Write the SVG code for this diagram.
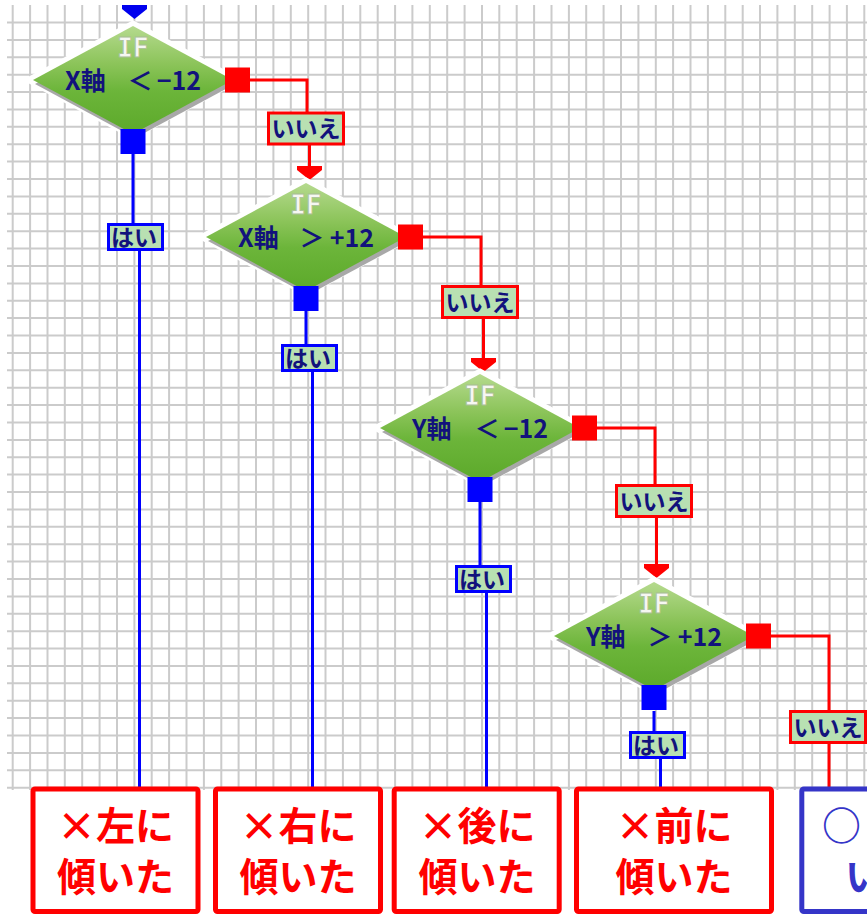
<svg xmlns="http://www.w3.org/2000/svg" xmlns:xlink="http://www.w3.org/1999/xlink" width="867" height="914" viewBox="0 0 867 914">
  <style>
    .grid { fill: none; stroke: #cbcbcb; stroke-width: 2; }
    .halo { fill: #ffffff; stroke: #ffffff; stroke-width: 10; stroke-linejoin: miter; }
    .shadow { fill: #a8a8a8; }
    .body { fill: url(#greenGrad); }
    .iftxt { font-family: "DejaVu Sans Mono", monospace; font-weight: bold; font-size: 26px; fill: #f6f7f2; stroke: #a9bf95; stroke-width: 0.8; text-anchor: middle; }
    .cond { font-family: "Noto Sans CJK JP", "Noto Sans", sans-serif; font-weight: bold; font-size: 25px; fill: #12127c; }
    .lbl { font-family: "Noto Sans CJK JP", sans-serif; font-weight: bold; font-size: 23px; fill: #12127c; }
    .lblfill { fill: #b8e0b2; }
    .noFrame { fill: none; stroke: #ff0000; stroke-width: 3; }
    .yesFrame { fill: none; stroke: #0000ff; stroke-width: 3; }
    .red { fill: none; stroke: #ff0000; stroke-width: 3; }
    .blue { fill: none; stroke: #0000ff; stroke-width: 3; }
    .redsq { fill: #ff0000; }
    .bluesq { fill: #0000ff; }
    .ngBox { fill: #ffffff; stroke: #ff0000; stroke-width: 5; }
    .okBox { fill: #ffffff; stroke: #3535c8; stroke-width: 5; }
    .ngTxt { font-family: "Noto Sans CJK JP", sans-serif; font-weight: bold; font-size: 39px; fill: #ff0000; text-anchor: middle; }
    .okTxt { font-family: "Noto Sans CJK JP", sans-serif; font-weight: bold; font-size: 39px; fill: #3535c8; }
  </style>
  <defs>
    <linearGradient id="greenGrad" x1="0" y1="0" x2="0" y2="1">
      <stop offset="0" stop-color="#b5da8e"/>
      <stop offset="0.35" stop-color="#8cc45a"/>
      <stop offset="0.6" stop-color="#6cb53a"/>
      <stop offset="1" stop-color="#5ca92a"/>
    </linearGradient>
    <path id="dshape" d="M0 -54L100 0L0 54L-100 0Z"/>
    <path id="arrowHead" d="M-12.5 -14H12.5V-10L0 0L-12.5 -10Z"/>
  </defs>

  <rect width="867" height="914" fill="#ffffff"/>

  <!-- background grid -->
  <path class="grid" d="M12.7 5V790M30.1 5V790M47.5 5V790M64.8 5V790M82.2 5V790M99.6 5V790M117 5V790M134.4 5V790M151.7 5V790M169.1 5V790M186.5 5V790M203.9 5V790M221.3 5V790M238.6 5V790M256 5V790M273.4 5V790M290.8 5V790M308.2 5V790M325.5 5V790M342.9 5V790M360.3 5V790M377.7 5V790M395.1 5V790M412.4 5V790M429.8 5V790M447.2 5V790M464.6 5V790M482 5V790M499.3 5V790M516.7 5V790M534.1 5V790M551.5 5V790M568.9 5V790M586.2 5V790M603.6 5V790M621 5V790M638.4 5V790M655.8 5V790M673.1 5V790M690.5 5V790M707.9 5V790M725.3 5V790M742.7 5V790M760 5V790M777.4 5V790M794.8 5V790M812.2 5V790M829.6 5V790M846.9 5V790M864.3 5V790
M7 22.5H867M7 39.9H867M7 57.3H867M7 74.7H867M7 92.1H867M7 109.5H867M7 126.8H867M7 144.2H867M7 161.6H867M7 179H867M7 196.4H867M7 213.8H867M7 231.2H867M7 248.6H867M7 266H867M7 283.4H867M7 300.7H867M7 318.1H867M7 335.5H867M7 352.9H867M7 370.3H867M7 387.7H867M7 405.1H867M7 422.5H867M7 439.9H867M7 457.3H867M7 474.6H867M7 492H867M7 509.4H867M7 526.8H867M7 544.2H867M7 561.6H867M7 579H867M7 596.4H867M7 613.8H867M7 631.2H867M7 648.5H867M7 665.9H867M7 683.3H867M7 700.7H867M7 718.1H867M7 735.5H867M7 752.9H867M7 770.3H867M7 787.7H867"/>

  <!-- connectors -->
  <g id="connectors">
    <!-- incoming flow -->
    <use xlink:href="#arrowHead" href="#arrowHead" transform="translate(134.5 19)" fill="#0000ee"/>
    <!-- "no" branches -->
    <path class="red" d="M237 80H307V113M309.5 144V168"/>
    <use xlink:href="#arrowHead" href="#arrowHead" transform="translate(309.5 180)" fill="#ff0000"/>
    <path class="red" d="M411 237H481V286.5M483.5 317.5V360"/>
    <use xlink:href="#arrowHead" href="#arrowHead" transform="translate(483.5 372)" fill="#ff0000"/>
    <path class="red" d="M585 428H655V485.5M656.5 516.5V566"/>
    <use xlink:href="#arrowHead" href="#arrowHead" transform="translate(656.5 578)" fill="#ff0000"/>
    <path class="red" d="M759 636H829V787"/>
    <!-- "yes" branches -->
    <path class="blue" d="M133 154V224M139.5 250V787"/>
    <path class="blue" d="M306 310V345M312.5 371V787"/>
    <path class="blue" d="M480 502V566M486.5 592V787"/>
    <path class="blue" d="M654 711V732M660.5 758V787"/>

    <!-- branch labels -->
    <g id="no1"><rect class="lblfill" x="268.5" y="113" width="75" height="31"/><text class="lbl" x="306" y="137" text-anchor="middle">いいえ</text><rect class="noFrame" x="268.5" y="113" width="75" height="31"/></g>
    <g id="no2"><rect class="lblfill" x="442.5" y="286.5" width="75" height="31"/><text class="lbl" x="480" y="310.5" text-anchor="middle">いいえ</text><rect class="noFrame" x="442.5" y="286.5" width="75" height="31"/></g>
    <g id="no3"><rect class="lblfill" x="616.5" y="485.5" width="75" height="31"/><text class="lbl" x="654" y="509.5" text-anchor="middle">いいえ</text><rect class="noFrame" x="616.5" y="485.5" width="75" height="31"/></g>
    <g id="no4"><rect class="lblfill" x="790.5" y="711.5" width="75" height="31"/><text class="lbl" x="828" y="735.5" text-anchor="middle">いいえ</text><rect class="noFrame" x="790.5" y="711.5" width="75" height="31"/></g>

    <svg id="yes1" x="107" y="223" width="57" height="28" overflow="hidden"><rect class="lblfill" x="1.5" y="1.5" width="54" height="25"/><text class="lbl" x="4" y="23" font-size="25">はい</text><rect class="yesFrame" x="1.5" y="1.5" width="54" height="25"/></svg>
    <svg id="yes2" x="281" y="344" width="57" height="28" overflow="hidden"><rect class="lblfill" x="1.5" y="1.5" width="54" height="25"/><text class="lbl" x="4" y="23" font-size="25">はい</text><rect class="yesFrame" x="1.5" y="1.5" width="54" height="25"/></svg>
    <svg id="yes3" x="455" y="565" width="57" height="28" overflow="hidden"><rect class="lblfill" x="1.5" y="1.5" width="54" height="25"/><text class="lbl" x="4" y="23" font-size="25">はい</text><rect class="yesFrame" x="1.5" y="1.5" width="54" height="25"/></svg>
    <svg id="yes4" x="629" y="731" width="57" height="28" overflow="hidden"><rect class="lblfill" x="1.5" y="1.5" width="54" height="25"/><text class="lbl" x="4" y="23" font-size="25">はい</text><rect class="yesFrame" x="1.5" y="1.5" width="54" height="25"/></svg>
  </g>

  <!-- decision nodes -->
  <g id="ifXlow" transform="translate(133 80)">
    <use xlink:href="#dshape" href="#dshape" class="halo"/>
    <use xlink:href="#dshape" href="#dshape" class="shadow" transform="translate(2 4)"/>
    <use xlink:href="#dshape" href="#dshape" class="body"/>
    <text class="iftxt" y="-23">IF</text>
    <text class="cond" x="-68" y="10">X軸</text>
    <text class="cond" x="7" y="10" text-anchor="middle">＜</text>
    <text class="cond" x="68" y="10" text-anchor="end">−12</text>
    <rect class="redsq" x="92" y="-12.5" width="25" height="25"/>
    <rect class="bluesq" x="-12.5" y="49" width="25" height="25"/>
  </g>
  <g id="ifXhigh" transform="translate(306 237)">
    <use xlink:href="#dshape" href="#dshape" class="halo"/>
    <use xlink:href="#dshape" href="#dshape" class="shadow" transform="translate(2 4)"/>
    <use xlink:href="#dshape" href="#dshape" class="body"/>
    <text class="iftxt" y="-23">IF</text>
    <text class="cond" x="-68" y="10">X軸</text>
    <text class="cond" x="6" y="10" text-anchor="middle">＞</text>
    <text class="cond" x="68" y="10" text-anchor="end">+12</text>
    <rect class="redsq" x="92" y="-12.5" width="25" height="25"/>
    <rect class="bluesq" x="-12.5" y="49" width="25" height="25"/>
  </g>
  <g id="ifYlow" transform="translate(480 428)">
    <use xlink:href="#dshape" href="#dshape" class="halo"/>
    <use xlink:href="#dshape" href="#dshape" class="shadow" transform="translate(2 4)"/>
    <use xlink:href="#dshape" href="#dshape" class="body"/>
    <text class="iftxt" y="-23">IF</text>
    <text class="cond" x="-68" y="10">Y軸</text>
    <text class="cond" x="7" y="10" text-anchor="middle">＜</text>
    <text class="cond" x="68" y="10" text-anchor="end">−12</text>
    <rect class="redsq" x="92" y="-12.5" width="25" height="25"/>
    <rect class="bluesq" x="-12.5" y="49" width="25" height="25"/>
  </g>
  <g id="ifYhigh" transform="translate(654 636)">
    <use xlink:href="#dshape" href="#dshape" class="halo"/>
    <use xlink:href="#dshape" href="#dshape" class="shadow" transform="translate(2 4)"/>
    <use xlink:href="#dshape" href="#dshape" class="body"/>
    <text class="iftxt" y="-23">IF</text>
    <text class="cond" x="-68" y="10">Y軸</text>
    <text class="cond" x="6" y="10" text-anchor="middle">＞</text>
    <text class="cond" x="68" y="10" text-anchor="end">+12</text>
    <rect class="redsq" x="92" y="-12.5" width="25" height="25"/>
    <rect class="bluesq" x="-12.5" y="49" width="25" height="25"/>
  </g>

  <!-- result boxes -->
  <g id="tiltLeft">
    <rect class="ngBox" x="33" y="789" width="165" height="122.5" rx="2"/>
    <text class="ngTxt" x="115.5" y="840">×左に</text>
    <text class="ngTxt" x="115.5" y="891">傾いた</text>
  </g>
  <g id="tiltRight">
    <rect class="ngBox" x="215.5" y="789" width="165" height="122.5" rx="2"/>
    <text class="ngTxt" x="298" y="840">×右に</text>
    <text class="ngTxt" x="298" y="891">傾いた</text>
  </g>
  <g id="tiltBack">
    <rect class="ngBox" x="394.2" y="789" width="165" height="122.5" rx="2"/>
    <text class="ngTxt" x="477" y="840">×後に</text>
    <text class="ngTxt" x="477" y="891">傾いた</text>
  </g>
  <g id="tiltFront">
    <rect class="ngBox" x="576.5" y="789" width="195" height="122.5" rx="2"/>
    <text class="ngTxt" x="674" y="840">×前に</text>
    <text class="ngTxt" x="674" y="891">傾いた</text>
  </g>
  <g id="level">
    <rect class="okBox" x="801.8" y="789" width="200" height="122.5" rx="2"/>
    <text class="okTxt" x="822" y="840">○</text>
    <text class="okTxt" x="845" y="891">い</text>
  </g>
</svg>
